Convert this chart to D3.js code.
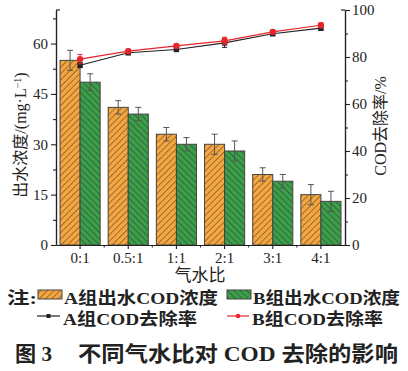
<!DOCTYPE html>
<html>
<head>
<meta charset="utf-8">
<script src="https://cdn.jsdelivr.net/npm/d3@7"></script>
<style>
  html, body { margin: 0; padding: 0; background: #fff; }
  svg { display: block; }
  text { font-family: "Liberation Serif", "Times New Roman", "Noto Sans CJK SC", serif; fill: #222; }
</style>
</head>
<body>
<svg id="chart" width="408" height="371"></svg>
<script>
// Gas-to-water ratios
const categories = ["0:1", "0.5:1", "1:1", "2:1", "3:1", "4:1"];
// Effluent COD concentration (mg/L) with error bars
const concA = [55, 41, 33, 30, 21, 15];
const concAErr = [3, 2, 2, 3, 2, 3];
const concB = [48.5, 39, 30, 28, 19, 13];
const concBErr = [2.5, 2, 2, 3, 2, 3];
// COD removal rate (%)
const rateA = [76.5, 81.8, 83.2, 86.0, 89.9, 92.3];
const rateAErr = [1, 0.8, 0.8, 1.9, 0.8, 1];
const rateB = [79.1, 82.5, 84.7, 86.9, 90.7, 93.5];
const rateBErr = [2, 0.8, 0.8, 1.5, 0.8, 1];
// Axis ticks
const leftTicks = [0, 15, 30, 45, 60];
const leftMinor = [7.5, 22.5, 37.5, 52.5, 67.5];
const rightTicks = [0, 20, 40, 60, 80, 100];
const rightMinor = [10, 30, 50, 70, 90];

const svg = d3.select("#chart");
const M = { left: 56, right: 345, top: 10, bottom: 245 };

const ORANGE = "#F5A63F";
const GREEN = "#3B9E48";
const EDGE = "#444";

// hatch patterns
const defs = svg.append("defs");
function hatch(id, fill, dir) {
  const p = defs.append("pattern")
    .attr("id", id).attr("patternUnits", "userSpaceOnUse")
    .attr("width", 4.5).attr("height", 4.5)
    .attr("patternTransform", `rotate(${dir})`);
  p.append("rect").attr("width", 4.5).attr("height", 4.5).attr("fill", fill);
  p.append("line").attr("x1", 0).attr("y1", 0).attr("x2", 0).attr("y2", 4.5)
    .attr("stroke", "#2a2a2a").attr("stroke-width", 0.9);
}
hatch("hA", ORANGE, 45);
hatch("hB", GREEN, -45);

const x = d3.scaleBand().domain(categories).range([M.left, M.right]).paddingInner(0).paddingOuter(0);
const xs = d3.scaleBand().domain(["A", "B"]).range([0, x.bandwidth()]).paddingInner(0).paddingOuter(0.2);
const yL = d3.scaleLinear().domain([0, 70]).range([M.bottom, M.top]);
const yR = d3.scaleLinear().domain([0, 100]).range([M.bottom, M.top]);

// bars
const groups = [
  { key: "A", vals: concA, err: concAErr, fill: "url(#hA)" },
  { key: "B", vals: concB, err: concBErr, fill: "url(#hB)" }
];
groups.forEach(g => {
  const gg = svg.append("g");
  categories.forEach((c, i) => {
    const x0 = x(c) + xs(g.key);
    gg.append("rect")
      .attr("x", x0).attr("y", yL(g.vals[i]))
      .attr("width", xs.bandwidth()).attr("height", yL(0) - yL(g.vals[i]))
      .attr("fill", g.fill).attr("stroke", EDGE).attr("stroke-width", 1);
    const cx = x0 + xs.bandwidth() / 2;
    const y1 = yL(g.vals[i] + g.err[i]), y2 = yL(g.vals[i] - g.err[i]);
    gg.append("line").attr("x1", cx).attr("x2", cx).attr("y1", y1).attr("y2", y2)
      .attr("stroke", "#555").attr("stroke-width", 1);
    [y1, y2].forEach(yy => gg.append("line").attr("x1", cx - 3).attr("x2", cx + 3)
      .attr("y1", yy).attr("y2", yy).attr("stroke", "#555").attr("stroke-width", 1));
  });
});

// axes
const axisStyle = g => {
  g.selectAll("path.domain").attr("stroke", "#222").attr("stroke-width", 1.2);
  g.selectAll(".tick line").attr("stroke", "#222").attr("stroke-width", 1.1);
  g.selectAll(".tick text").style("font-size", "15px").attr("fill", "#222");
};
svg.append("g").attr("transform", `translate(${M.left},0)`)
  .call(d3.axisLeft(yL).tickValues(leftTicks).tickSize(5).tickSizeOuter(0).tickPadding(3)).call(axisStyle);
svg.append("g").attr("transform", `translate(${M.left},0)`)
  .call(d3.axisLeft(yL).tickValues(leftMinor).tickSize(3).tickFormat("").tickSizeOuter(0)).call(axisStyle);
svg.append("g").attr("transform", `translate(${M.right},0)`)
  .call(d3.axisRight(yR).tickValues(rightTicks).tickSize(5).tickSizeOuter(0).tickPadding(2)).call(axisStyle);
svg.append("g").attr("transform", `translate(${M.right},0)`)
  .call(d3.axisRight(yR).tickValues(rightMinor).tickSize(3).tickFormat("").tickSizeOuter(0)).call(axisStyle);
// top caps of the two vertical axes
svg.append("line").attr("x1", M.left).attr("x2", M.left + 4).attr("y1", M.top).attr("y2", M.top).attr("stroke", "#222").attr("stroke-width", 1.2);
svg.append("line").attr("x1", M.right - 4).attr("x2", M.right).attr("y1", M.top).attr("y2", M.top).attr("stroke", "#222").attr("stroke-width", 1.2);

svg.append("g").attr("transform", `translate(0,${M.bottom})`)
  .call(d3.axisBottom(x).tickSize(4).tickSizeOuter(0).tickPadding(3)).call(axisStyle);
// minor ticks between categories
const mids = categories.slice(1).map(c => x(c));
svg.append("g").selectAll("line").data(mids).join("line")
  .attr("x1", d => d).attr("x2", d => d).attr("y1", M.bottom).attr("y2", M.bottom + 2.5)
  .attr("stroke", "#222").attr("stroke-width", 1);

// removal-rate lines
const cxOf = c => x(c) + x.bandwidth() / 2;
const line = d3.line().x((d, i) => cxOf(categories[i])).y(d => yR(d));
function series(vals, err, color, shape) {
  const g = svg.append("g");
  g.append("path").datum(vals).attr("d", line).attr("fill", "none")
    .attr("stroke", color).attr("stroke-width", 1.2);
  vals.forEach((v, i) => {
    const cx = cxOf(categories[i]);
    const y1 = yR(v + err[i]), y2 = yR(v - err[i]);
    g.append("line").attr("x1", cx).attr("x2", cx).attr("y1", y1).attr("y2", y2).attr("stroke", color).attr("stroke-width", 1);
    [y1, y2].forEach(yy => g.append("line").attr("x1", cx - 2.5).attr("x2", cx + 2.5).attr("y1", yy).attr("y2", yy).attr("stroke", color).attr("stroke-width", 1));
    if (shape === "square") {
      g.append("rect").attr("x", cx - 2.7).attr("y", yR(v) - 2.7).attr("width", 5.4).attr("height", 5.4).attr("fill", color);
    } else {
      g.append("circle").attr("cx", cx).attr("cy", yR(v)).attr("r", 3.2).attr("fill", color);
    }
  });
}
series(rateA, rateAErr, "#222", "square");
series(rateB, rateBErr, "#E8252A", "circle");

// axis titles
svg.append("text").attr("transform", "translate(26,135) rotate(-90)")
  .attr("text-anchor", "middle").style("font-size", "16px")
  .call(t => {
    t.append("tspan").text("出水浓度/(mg·L");
    t.append("tspan").attr("baseline-shift", "super").style("font-size", "10px").text("−1");
    t.append("tspan").text(")");
  });
svg.append("text").attr("transform", "translate(386,126) rotate(-90)")
  .attr("text-anchor", "middle").style("font-size", "16px").text("COD去除率/%");
svg.append("text").attr("x", 200).attr("y", 281).attr("text-anchor", "middle")
  .style("font-size", "17px").text("气水比");

// legend
const lg = svg.append("g").style("font-weight", "bold").style("font-size", "17px");
const ltext = (tx, ty, len, s) => lg.append("text").attr("x", tx).attr("y", ty)
  .attr("textLength", len).attr("lengthAdjust", "spacingAndGlyphs").text(s);
ltext(7, 304, 30, "注:");
lg.append("rect").attr("x", 38).attr("y", 290).attr("width", 24).attr("height", 9)
  .attr("fill", "url(#hA)").attr("stroke", EDGE).attr("stroke-width", 1);
ltext(64, 304, 154, "A组出水COD浓度");
lg.append("rect").attr("x", 227).attr("y", 290).attr("width", 24).attr("height", 9)
  .attr("fill", "url(#hB)").attr("stroke", EDGE).attr("stroke-width", 1);
ltext(253, 304, 147, "B组出水COD浓度");

lg.append("line").attr("x1", 37).attr("x2", 60).attr("y1", 316).attr("y2", 316).attr("stroke", "#222").attr("stroke-width", 1.2);
lg.append("rect").attr("x", 46.5).attr("y", 314).attr("width", 4).attr("height", 4).attr("fill", "#222");
ltext(63, 325, 134, "A组COD去除率");
lg.append("line").attr("x1", 227).attr("x2", 249).attr("y1", 316).attr("y2", 316).attr("stroke", "#E8252A").attr("stroke-width", 1.2);
lg.append("circle").attr("cx", 238).attr("cy", 316).attr("r", 2.3).attr("fill", "#E8252A");
ltext(252, 325, 131, "B组COD去除率");

// figure caption
const cap = svg.append("g").style("font-size", "21px").style("font-weight", "bold");
cap.append("text").attr("x", 15).attr("y", 361).attr("textLength", 37)
  .attr("lengthAdjust", "spacingAndGlyphs").text("图 3");
cap.append("text").attr("x", 78).attr("y", 361).attr("textLength", 320)
  .attr("lengthAdjust", "spacingAndGlyphs").text("不同气水比对 COD 去除的影响");
</script>
</body>
</html>
